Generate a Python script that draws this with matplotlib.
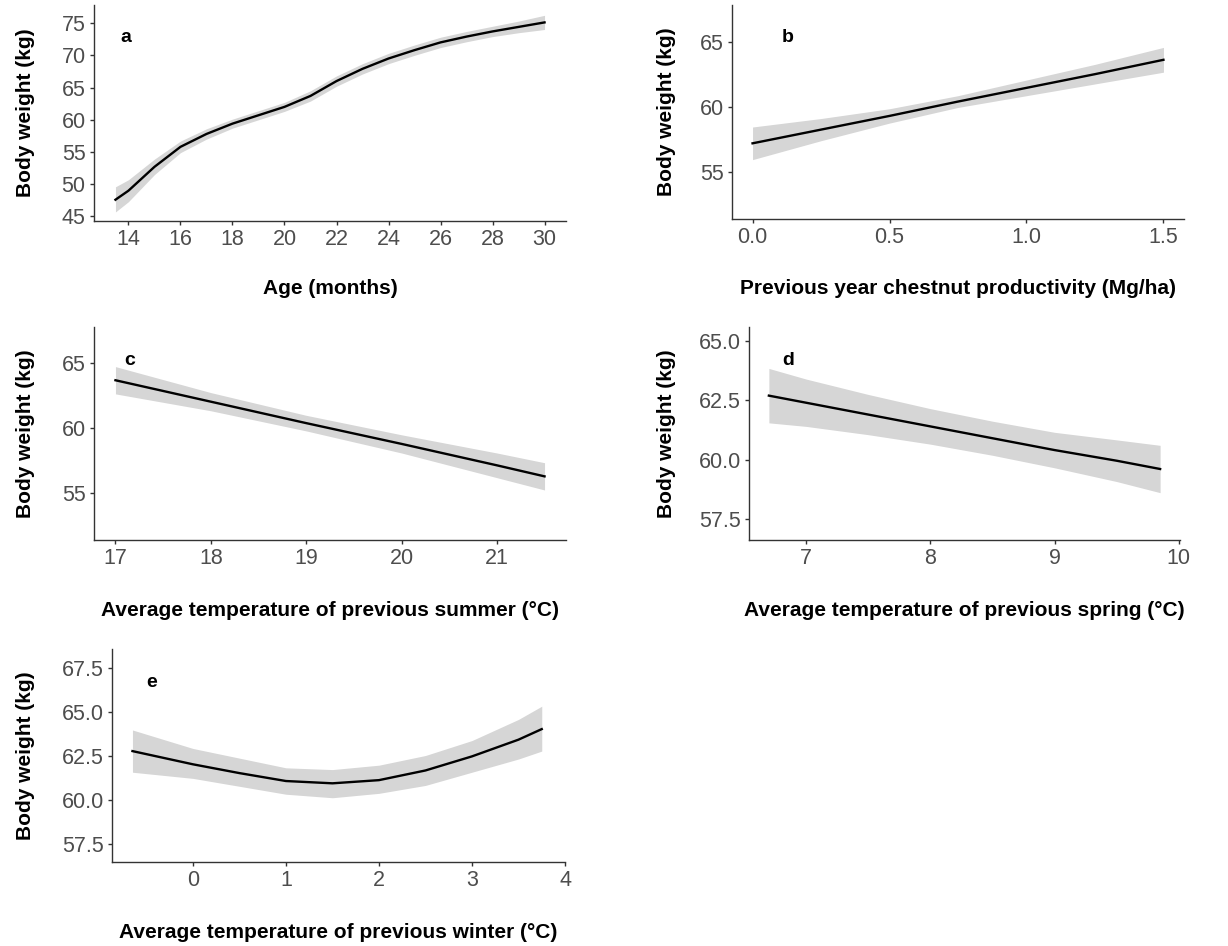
import numpy as np
import matplotlib
matplotlib.use("Agg")
import matplotlib.pyplot as plt

plt.rcParams['font.family'] = ['Liberation Sans', 'DejaVu Sans']

# panel a - age
age = [13.5, 14, 15, 16, 17, 18, 19, 20, 21, 22, 23, 24, 25, 26, 27, 28, 29, 30]
wt_age = [47.6, 49.0, 52.7, 55.8, 57.8, 59.4, 60.7, 62.0, 63.7, 66.0, 67.9, 69.5, 70.8, 72.0, 72.9, 73.7, 74.4, 75.1]
lo_age = [45.7, 47.3, 51.5, 54.9, 57.0, 58.7, 60.0, 61.3, 62.9, 65.2, 67.1, 68.7, 70.0, 71.2, 72.1, 72.9, 73.5, 74.0]
hi_age = [49.6, 50.7, 53.9, 56.7, 58.6, 60.1, 61.4, 62.7, 64.5, 66.8, 68.7, 70.3, 71.6, 72.8, 73.7, 74.5, 75.3, 76.2]

# panel b - chestnut
chest = [0, 0.25, 0.5, 0.75, 1.0, 1.25, 1.5]
wt_chest = [57.2, 58.25, 59.3, 60.4, 61.45, 62.5, 63.6]
lo_chest = [55.95, 57.4, 58.75, 59.95, 60.85, 61.75, 62.65]
hi_chest = [58.45, 59.1, 59.85, 60.85, 62.05, 63.25, 64.55]

# panel c - summer
summer = [17, 18, 19, 20, 21, 21.5]
wt_summer = [63.7, 62.05, 60.4, 58.8, 57.15, 56.3]
lo_summer = [62.65, 61.35, 59.8, 58.1, 56.2, 55.25]
hi_summer = [64.75, 62.75, 61.0, 59.5, 58.1, 57.35]

# panel d - spring
spring = [6.7, 7, 7.5, 8, 8.5, 9, 9.5, 9.85]
wt_spring = [62.7, 62.4, 61.9, 61.4, 60.9, 60.4, 59.95, 59.6]
lo_spring = [61.55, 61.4, 61.05, 60.65, 60.18, 59.65, 59.07, 58.6]
hi_spring = [63.85, 63.4, 62.75, 62.15, 61.62, 61.15, 60.83, 60.6]

# panel e - winter
winter = [-0.65, 0, 0.5, 1, 1.5, 2, 2.5, 3, 3.5, 3.75]
wt_winter = [62.8, 62.05, 61.55, 61.1, 60.97, 61.15, 61.7, 62.5, 63.45, 64.05]
lo_winter = [61.6, 61.25, 60.8, 60.35, 60.15, 60.4, 60.85, 61.6, 62.35, 62.8]
hi_winter = [64.0, 62.95, 62.4, 61.85, 61.75, 62.0, 62.55, 63.4, 64.6, 65.35]

W, H = 1228, 946
fig = plt.figure(figsize=(W / 100, H / 100), dpi=100)

panels = [
    # x, y, lo, hi, letter, xlabel, box(left,right,top,bottom px), xlim, ylim, xticks, yticks,
    # x fmt, y fmt, letter pos (axes frac), xlabel y px, ylabel x px
    (age, wt_age, lo_age, hi_age, 'a', 'Age (months)', (94, 566, 5, 221),
     (12.675, 30.825), (44.3, 77.8), range(14, 31, 2), range(45, 76, 5), '%d', '%d', (0.055, 0.85), 289, 26),
    (chest, wt_chest, lo_chest, hi_chest, 'b', 'Previous year chestnut productivity (Mg/ha)', (732, 1184, 5, 219),
     (-0.075, 1.575), (51.4, 67.8), [0, 0.5, 1.0, 1.5], [55, 60, 65], '%.1f', '%d', (0.11, 0.85), 289, 667),
    (summer, wt_summer, lo_summer, hi_summer, 'c', 'Average temperature of previous summer (°C)', (94, 566, 327, 540),
     (16.775, 21.725), (51.4, 67.8), range(17, 22), [55, 60, 65], '%d', '%d', (0.065, 0.845), 610, 26),
    (spring, wt_spring, lo_spring, hi_spring, 'd', 'Average temperature of previous spring (°C)', (749, 1180, 327, 540),
     (6.54, 10.01), (56.6, 65.6), range(7, 11), [57.5, 60.0, 62.5, 65.0], '%d', '%.1f', (0.077, 0.845), 610, 667),
    (winter, wt_winter, lo_winter, hi_winter, 'e', 'Average temperature of previous winter (°C)', (112, 565, 649, 862),
     (-0.87, 3.97), (56.5, 68.6), range(0, 5), [57.5, 60.0, 62.5, 65.0, 67.5], '%d', '%.1f', (0.075, 0.845), 932, 26),
]

for (x, y, lo, hi, letter, xlab, box, xlim, ylim, xt, yt, fx, fy, lpos, xly, ylx) in panels:
    l, r, t, b = box
    ax = fig.add_axes([l / W, 1 - b / H, (r - l) / W, (b - t) / H])
    ax.fill_between(x, lo, hi, color='#D6D6D6', linewidth=0)
    ax.plot(x, y, color='black', linewidth=1.7)
    ax.set_xlim(*xlim)
    ax.set_ylim(*ylim)
    ax.set_xticks(list(xt))
    ax.set_yticks(list(yt))
    ax.set_xticklabels([fx % v for v in xt])
    ax.set_yticklabels([fy % v for v in yt])
    for s in ['top', 'right']:
        ax.spines[s].set_visible(False)
    for s in ['left', 'bottom']:
        ax.spines[s].set_color('#333333')
        ax.spines[s].set_linewidth(1.0)
    ax.tick_params(colors='#333333', labelcolor='#4D4D4D', labelsize=15.5, length=3, width=1, pad=3)
    ax.text(lpos[0], lpos[1], letter, transform=ax.transAxes, fontsize=14, fontweight='bold',
            ha='left', va='center')
    fig.text((l + r) / 2 / W, 1 - xly / H, xlab, ha='center', va='center', fontsize=15, fontweight='bold')
    fig.text(ylx / W, 1 - (t + b) / 2 / H, 'Body weight (kg)', ha='center', va='center',
             rotation=90, fontsize=15, fontweight='bold')

fig.savefig('out.png', dpi=100)
